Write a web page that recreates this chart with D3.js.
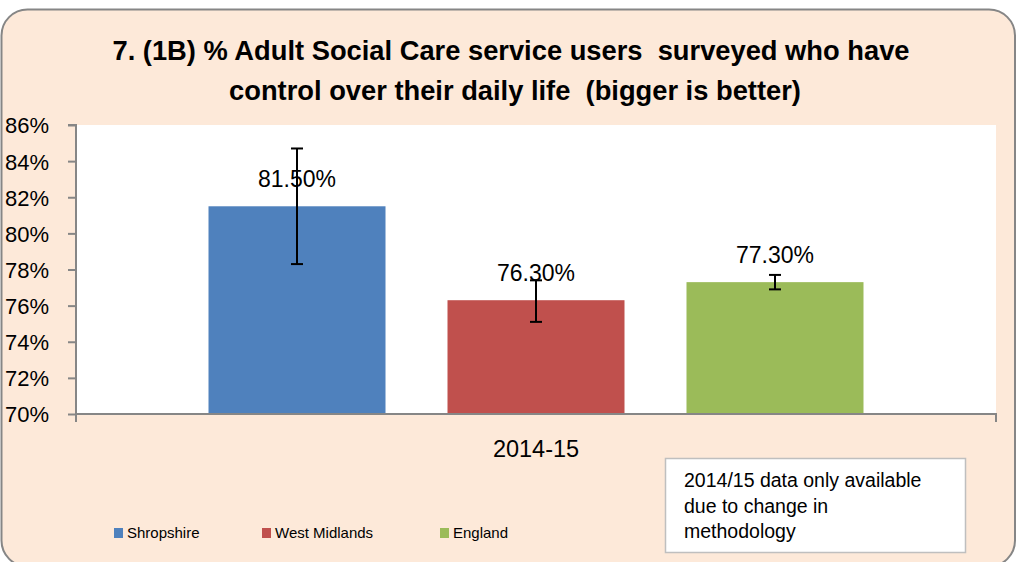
<!DOCTYPE html>
<html>
<head>
<meta charset="utf-8">
<script src="https://cdn.jsdelivr.net/npm/d3@7"></script>
<style>
  html, body { margin: 0; padding: 0; background: #ffffff; }
  svg { display: block; }
  text { font-family: "Liberation Sans", Arial, sans-serif; fill: #000; }
</style>
</head>
<body>
<svg id="chart" width="1017" height="562"></svg>
<script>
// ---- data ----
const titleLines = ["7. (1B) % Adult Social Care service users  surveyed who have",
                    "control over their daily life  (bigger is better)"];
const categories = ["2014-15"];
const seriesNames = ["Shropshire", "West Midlands", "England"];
const seriesColors = ["#4f81bd", "#c0504d", "#9bbb59"];
const values = [81.5, 76.3, 77.3];
const errorLow = [78.3, 75.1, 76.9];
const errorHigh = [84.7, 77.4, 77.7];
const yTicks = [70, 72, 74, 76, 78, 80, 82, 84, 86];
const noteLines = ["2014/15 data only available", "due to change in", "methodology"];

// ---- layout ----
const svg = d3.select("#chart");
const plot = { left: 76, right: 996, top: 125, bottom: 414 };

// background frame
svg.append("rect")
  .attr("x", 1.5).attr("y", 9.5)
  .attr("width", 1013.5).attr("height", 557)
  .attr("rx", 26).attr("ry", 26)
  .attr("fill", "#fde9d9")
  .attr("stroke", "#868686").attr("stroke-width", 2);

// title
svg.append("g").selectAll("text")
  .data(titleLines)
  .join("text")
  .attr("x", (d, i) => i === 0 ? 511 : 515)
  .attr("y", (d, i) => 60 + i * 40)
  .attr("text-anchor", "middle")
  .attr("font-weight", "bold")
  .attr("font-size", 27.3)
  .style("white-space", "pre")
  .text(d => d);

// scales
const y = d3.scaleLinear().domain([70, 86]).range([plot.bottom, plot.top]);
const x0 = d3.scaleBand().domain(categories)
  .range([plot.left, plot.right]).paddingInner(0).paddingOuter(0.2023);
const x1 = d3.scaleBand().domain(seriesNames)
  .range([0, x0.bandwidth()]).paddingInner(0.2594).paddingOuter(0);

// plot area
svg.append("rect")
  .attr("x", plot.left).attr("y", plot.top)
  .attr("width", plot.right - plot.left).attr("height", plot.bottom - plot.top)
  .attr("fill", "#ffffff");

// bars
const rows = seriesNames.map((s, i) => ({
  name: s, value: values[i], lo: errorLow[i], hi: errorHigh[i], color: seriesColors[i], cat: categories[0]
}));

const g = svg.append("g");
g.selectAll("rect.bar")
  .data(rows)
  .join("rect")
  .attr("class", "bar")
  .attr("x", d => x0(d.cat) + x1(d.name))
  .attr("y", d => y(d.value))
  .attr("width", x1.bandwidth())
  .attr("height", d => y(70) - y(d.value))
  .attr("fill", d => d.color);

// y axis
const yAxis = d3.axisLeft(y).tickValues(yTicks).tickSize(8).tickPadding(6)
  .tickFormat(d => d + "%");
const yg = svg.append("g").attr("transform", `translate(${plot.left},0)`).call(yAxis);
yg.select(".domain").attr("stroke", "#868686").attr("stroke-width", 2)
  .attr("d", `M-8,${plot.top}H0V${plot.bottom}`);
yg.selectAll(".tick line").attr("stroke", "#868686").attr("stroke-width", 2);
yg.selectAll(".tick text")
  .attr("font-size", 22)
  .attr("font-family", "Liberation Sans, Arial, sans-serif")
  .attr("x", -71).attr("text-anchor", "start").attr("dy", "0.36em");

// x axis
const xg = svg.append("g").attr("transform", `translate(0,${plot.bottom})`);
xg.append("path")
  .attr("d", `M${plot.left},8V0H${plot.right}V8`)
  .attr("fill", "none").attr("stroke", "#868686").attr("stroke-width", 2);
xg.selectAll("text.cat")
  .data(categories)
  .join("text")
  .attr("class", "cat")
  .attr("x", d => x0(d) + x0.bandwidth() / 2)
  .attr("y", 43)
  .attr("text-anchor", "middle")
  .attr("font-size", 23.5)
  .text(d => d);

// error bars
const eb = g.selectAll("g.err").data(rows).join("g").attr("class", "err")
  .attr("transform", d => `translate(${x0(d.cat) + x1(d.name) + x1.bandwidth() / 2},0)`);
eb.append("line").attr("x1", 0).attr("x2", 0)
  .attr("y1", d => y(d.hi)).attr("y2", d => y(d.lo))
  .attr("stroke", "#000").attr("stroke-width", 2);
eb.append("line").attr("x1", -6).attr("x2", 6)
  .attr("y1", d => y(d.hi)).attr("y2", d => y(d.hi))
  .attr("stroke", "#000").attr("stroke-width", 2);
eb.append("line").attr("x1", -6).attr("x2", 6)
  .attr("y1", d => y(d.lo)).attr("y2", d => y(d.lo))
  .attr("stroke", "#000").attr("stroke-width", 2);

// data labels
g.selectAll("text.lbl")
  .data(rows)
  .join("text")
  .attr("class", "lbl")
  .attr("x", d => x0(d.cat) + x1(d.name) + x1.bandwidth() / 2)
  .attr("y", d => y(d.value) - 19)
  .attr("text-anchor", "middle")
  .attr("font-size", 23)
  .text(d => d.value.toFixed(2) + "%");

// legend
const legendX = [114, 262, 440];
const lg = svg.append("g").selectAll("g").data(rows).join("g")
  .attr("transform", (d, i) => `translate(${legendX[i]},528)`);
lg.append("rect").attr("x", 0).attr("y", 0).attr("width", 9).attr("height", 10)
  .attr("fill", d => d.color);
lg.append("text").attr("x", 13).attr("y", 10).attr("font-size", 15).text(d => d.name);

// note box
svg.append("rect")
  .attr("x", 665.5).attr("y", 458.5).attr("width", 300).attr("height", 94)
  .attr("fill", "#ffffff").attr("stroke", "#bfbfbf").attr("stroke-width", 1.5);
svg.append("g").selectAll("text").data(noteLines).join("text")
  .attr("x", 684).attr("y", (d, i) => 487 + i * 25.5)
  .attr("font-size", 19.5)
  .text(d => d);
</script>
</body>
</html>
